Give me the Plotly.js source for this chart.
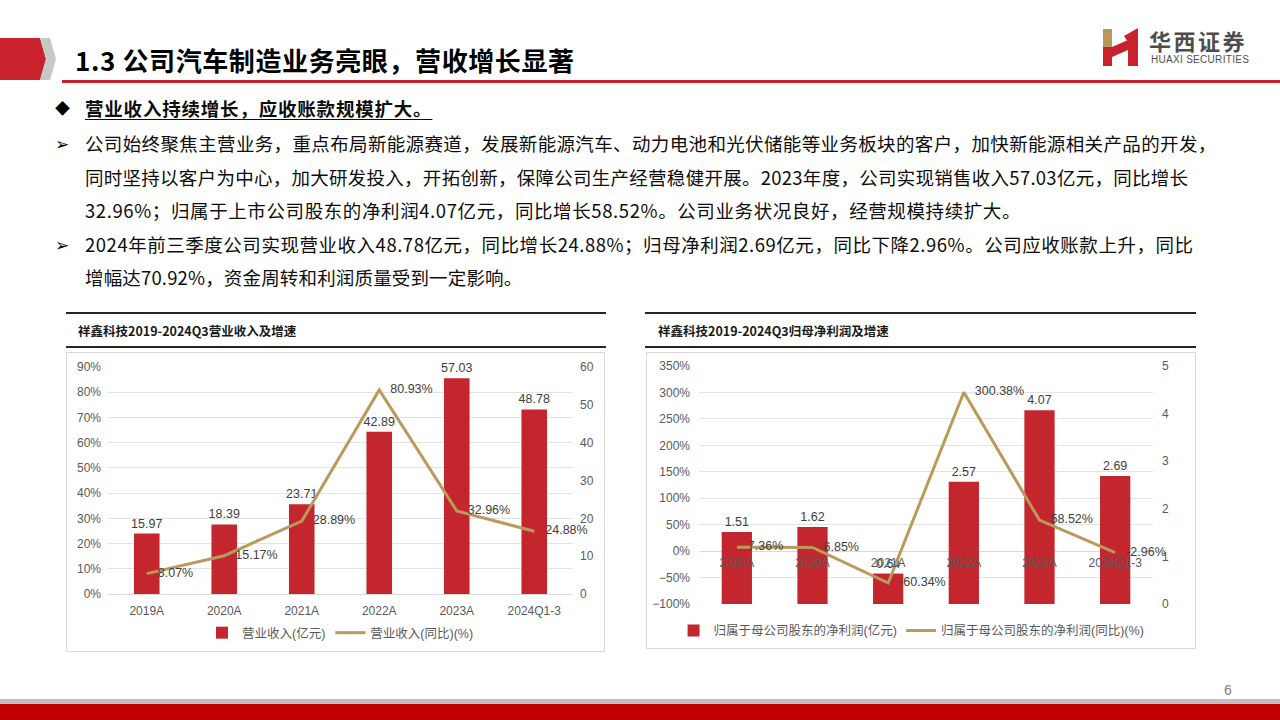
<!DOCTYPE html>
<html>
<head>
<meta charset="utf-8">
<script src="https://cdn.plot.ly/plotly-3.0.1.min.js"></script>
<style>
  html, body { margin:0; padding:0; background:#fff; }
  body { width:1280px; height:720px; position:relative; overflow:hidden;
         font-family:"Noto Sans CJK SC","Liberation Sans",sans-serif; }
  .abs { position:absolute; }
  .title { left:75px; top:41px; font-size:26px; font-weight:700; color:#000; white-space:nowrap; letter-spacing:0.6px; }
  .line { white-space:nowrap; font-size:18.5px; color:#0d0d0d; line-height:24px; }
  .mark { font-size:17px; color:#000; line-height:24px; }
  .ctitle { font-size:12.5px; font-weight:700; color:#1a1a1a; white-space:nowrap; }
  .rule { background:#262626; height:2px; }
  .frame { border:1px solid #d9d9d9; box-sizing:border-box; }
</style>
</head>
<body>
<svg class="abs" style="left:0;top:0" width="1280" height="720">
  <polygon points="0,38 40,38 46,59 40,80 0,80" fill="#C8232C"/>
  <polygon points="40,38 50,38 56,59 50,80 40,80 46,59" fill="#C8C8C8"/>
  <rect x="62" y="80" width="1218" height="3" fill="#C8232C"/>
  <rect x="1103" y="29" width="9" height="18" fill="#B9985E"/>
  <rect x="1103" y="47" width="9" height="19" fill="#C8232C"/>
  <polygon points="1112,47 1128,40 1128,50 1112,57" fill="#C8232C"/>
  <polygon points="1124,36 1138,28 1138,66 1128,66 1128,42" fill="#C8232C"/>
  <rect x="0" y="699" width="1280" height="5" fill="#C0C0C0"/>
  <rect x="0" y="704" width="1280" height="16" fill="#C00000"/>
</svg>
<div class="abs" style="left:1149px;top:29px;font-size:22px;line-height:22px;font-weight:700;color:#4d4d4d;letter-spacing:2.5px;white-space:nowrap;">华西证券</div>
<div class="abs" style="left:1151px;top:55px;font-size:10px;line-height:10px;color:#4d4d4d;font-family:'Liberation Sans',sans-serif;white-space:nowrap;letter-spacing:0.3px;">HUAXI SECURITIES</div>
<div class="abs" style="left:1224px;top:682px;font-size:14px;line-height:16px;color:#808080;font-family:'Liberation Sans',sans-serif;">6</div>

<div class="abs title">1.3 公司汽车制造业务亮眼，营收增长显著</div>

<div class="abs mark" style="left:55px;top:96px;font-size:15px;">◆</div>
<div class="abs line" style="left:85px;top:96px;font-weight:700;letter-spacing:0.8px;text-decoration:underline;text-underline-offset:3px;">营业收入持续增长，应收账款规模扩大。</div>
<div class="abs mark" style="left:55px;top:131px;">➢</div>
<div class="abs line" style="left:85px;top:131px;letter-spacing:0.36px;">公司始终聚焦主营业务，重点布局新能源赛道，发展新能源汽车、动力电池和光伏储能等业务板块的客户，加快新能源相关产品的开发，</div>
<div class="abs line" style="left:85px;top:165px;letter-spacing:0.27px;">同时坚持以客户为中心，加大研发投入，开拓创新，保障公司生产经营稳健开展。2023年度，公司实现销售收入57.03亿元，同比增长</div>
<div class="abs line" style="left:85px;top:198px;letter-spacing:0.6px;">32.96%；归属于上市公司股东的净利润4.07亿元，同比增长58.52%。公司业务状况良好，经营规模持续扩大。</div>
<div class="abs mark" style="left:55px;top:232px;">➢</div>
<div class="abs line" style="left:85px;top:232px;letter-spacing:0.53px;">2024年前三季度公司实现营业收入48.78亿元，同比增长24.88%；归母净利润2.69亿元，同比下降2.96%。公司应收账款上升，同比</div>
<div class="abs line" style="left:85px;top:265px;letter-spacing:0.16px;">增幅达70.92%，资金周转和利润质量受到一定影响。</div>

<div class="abs rule" style="left:66px;top:312px;width:540px;"></div>
<div class="abs ctitle" style="left:78px;top:321px;">祥鑫科技2019-2024Q3营业收入及增速</div>
<div class="abs rule" style="left:66px;top:346px;width:540px;"></div>
<div class="abs frame" style="left:66px;top:352px;width:539px;height:300px;"></div>
<div id="c1" class="abs" style="left:66px;top:352px;width:538px;height:300px;"></div>

<div class="abs rule" style="left:645px;top:312px;width:551px;"></div>
<div class="abs ctitle" style="left:658px;top:321px;">祥鑫科技2019-2024Q3归母净利润及增速</div>
<div class="abs rule" style="left:645px;top:346px;width:551px;"></div>
<div class="abs frame" style="left:646px;top:352px;width:550px;height:297px;"></div>
<div id="c2" class="abs" style="left:646px;top:352px;width:549px;height:296px;"></div>

<script>
const categories = ['2019A','2020A','2021A','2022A','2023A','2024Q1-3'];
const revenue = [15.97, 18.39, 23.71, 42.89, 57.03, 48.78];
const revenueYoY = [8.07, 15.17, 28.89, 80.93, 32.96, 24.88];
const netProfit = [1.51, 1.62, 0.64, 2.57, 4.07, 2.69];
const netProfitYoY = [7.36, 6.85, -60.34, 300.38, 58.52, -2.96];
const revenueNames = ['营业收入(亿元)', '营业收入(同比)(%)'];
const profitNames = ['归属于母公司股东的净利润(亿元)', '归属于母公司股东的净利润(同比)(%)'];

const BAR = '#C4262E', LINE = '#B99A5B';
const FONT = '"Liberation Sans","Noto Sans CJK SC",sans-serif';
const tickFont = {family: FONT, size: 12, color: '#595959'};
const labelFont = {family: FONT, size: 12.5, color: '#404040'};
const legFont = {family: FONT, size: 12.5, color: '#595959'};
const cfg = {staticPlot: true, displayModeBar: false};
const hiddenMarker = {size: 16, color: 'rgba(0,0,0,0)'};

// Chart 1: revenue
Plotly.newPlot('c1', [
  {type:'bar', x:categories, y:revenue, name:revenueNames[0], yaxis:'y',
   marker:{color:BAR}, texttemplate:'%{y:.2f}', textposition:'outside', constraintext:'none',
   textfont:labelFont, cliponaxis:false},
  {type:'scatter', mode:'lines+markers+text', x:categories, y:revenueYoY, name:revenueNames[1], yaxis:'y2',
   line:{color:LINE, width:3}, marker:hiddenMarker, texttemplate:'%{y:.2f}%', textposition:'middle right',
   textfont:labelFont, cliponaxis:false}
], {
  width:538, height:300, margin:{l:42, r:31, t:15, b:58, autoexpand:false},
  paper_bgcolor:'rgba(0,0,0,0)', plot_bgcolor:'rgba(0,0,0,0)',
  showlegend:true, bargap:0.67,
  xaxis:{type:'category', tickfont:tickFont, showgrid:false, showline:false, ticks:'', ticklabelstandoff:8},
  yaxis:{side:'right', range:[0,60], dtick:10, showgrid:false, zeroline:false, tickfont:tickFont, ticklabelstandoff:6},
  yaxis2:{side:'left', overlaying:'y', range:[0,90], dtick:10, ticksuffix:'%', showgrid:true,
          gridcolor:'#e3e3e3', zeroline:true, zerolinecolor:'#d9d9d9', tickfont:tickFont, ticklabelstandoff:6},
  legend:{orientation:'h', x:0.5, xanchor:'center', y:-0.172, yanchor:'middle',
          font:legFont, traceorder:'normal'}
}, cfg);

// Chart 2: net profit
Plotly.newPlot('c2', [
  {type:'bar', x:categories, y:netProfit, name:profitNames[0], yaxis:'y', legend:'legend',
   marker:{color:BAR}, texttemplate:'%{y:.2f}', textposition:'outside', constraintext:'none',
   textfont:labelFont, cliponaxis:false},
  {type:'scatter', mode:'lines+markers+text', x:categories, y:netProfitYoY, name:profitNames[1], yaxis:'y2', legend:'legend2',
   line:{color:LINE, width:3}, marker:hiddenMarker, texttemplate:'%{y:.2f}%', textposition:'middle right',
   textfont:labelFont, cliponaxis:false}
], {
  width:549, height:296, margin:{l:53, r:42, t:14, b:44, autoexpand:false},
  paper_bgcolor:'rgba(0,0,0,0)', plot_bgcolor:'rgba(0,0,0,0)',
  showlegend:true, bargap:0.6,
  xaxis:{type:'category', tickfont:tickFont, showgrid:false, showline:false, ticks:'',
         anchor:'free', position:100/450, ticklabelstandoff:3},
  yaxis:{side:'right', range:[0,5], dtick:1, showgrid:false, zeroline:false, tickfont:tickFont, ticklabelstandoff:8},
  yaxis2:{side:'left', overlaying:'y', range:[-100,350], dtick:50, ticksuffix:'%', showgrid:true,
          gridcolor:'#e3e3e3', zeroline:true, zerolinecolor:'#d9d9d9', tickfont:tickFont, ticklabelstandoff:8},
  legend:{orientation:'h', x:-0.056, xanchor:'left', y:-0.113, yanchor:'middle', font:legFont},
  legend2:{orientation:'h', x:0.445, xanchor:'left', y:-0.113, yanchor:'middle', font:legFont}
}, cfg);
</script>
</body>
</html>
